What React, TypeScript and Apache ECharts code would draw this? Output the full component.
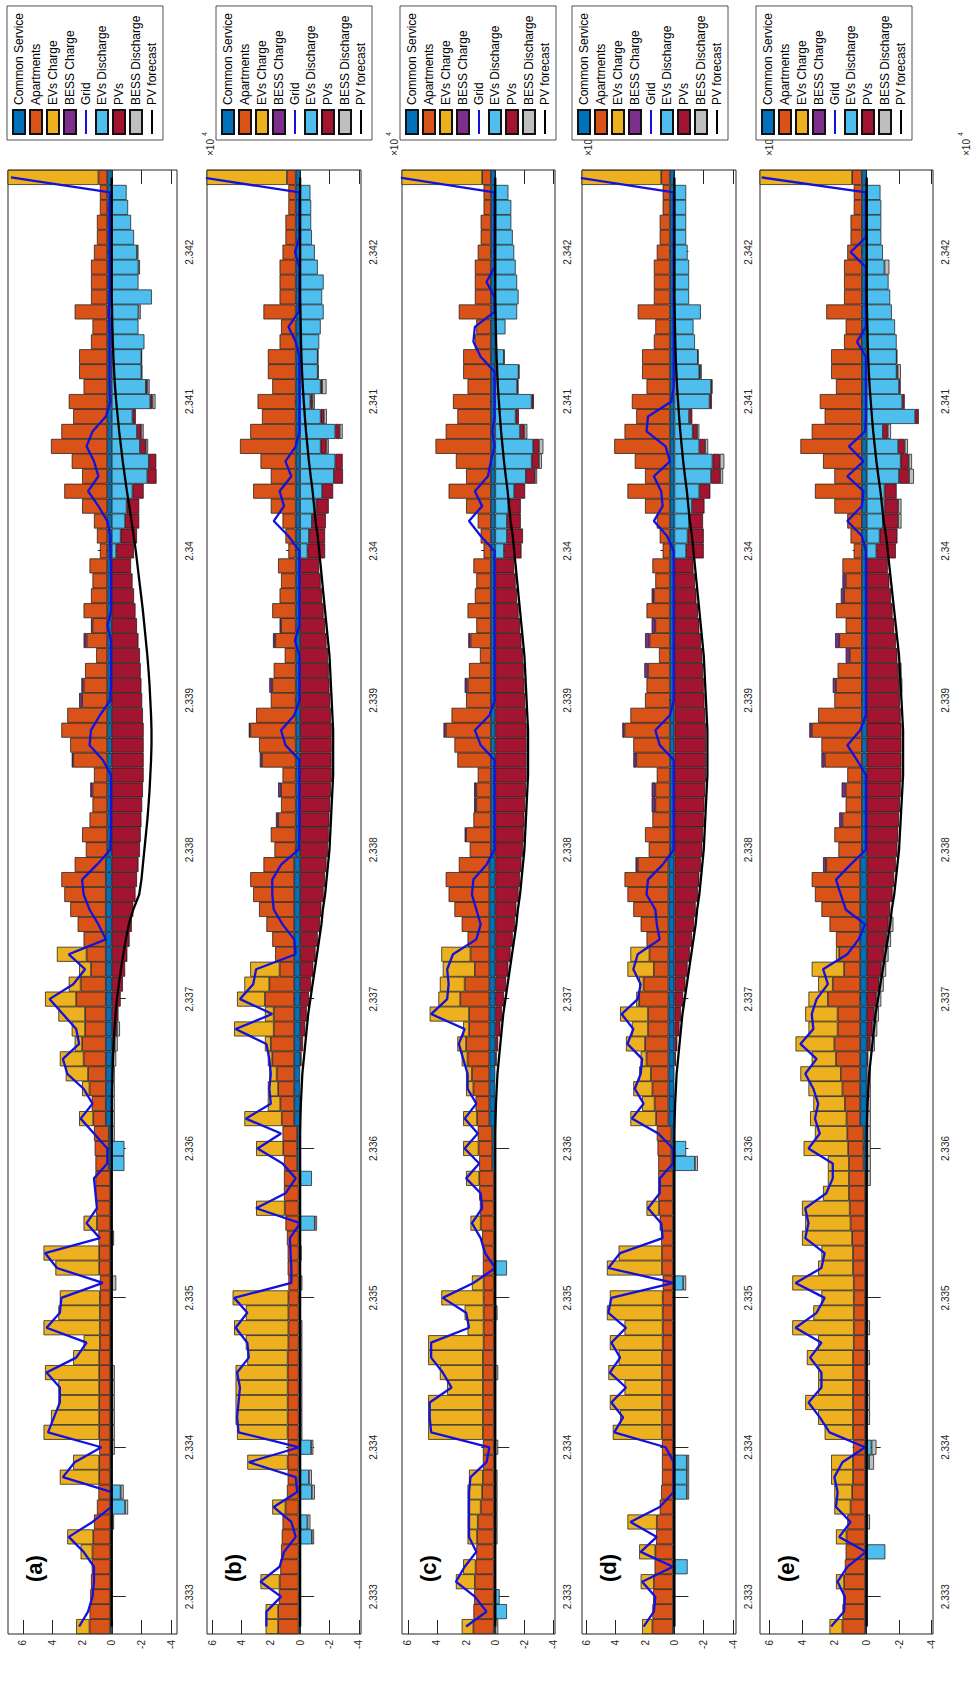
import React, { useEffect, useRef } from "react";
import * as echarts from "echarts";

// ---------------------------------------------------------------------------
// Hourly time stamps (hours, shown on the axis in units of 1e4)
// ---------------------------------------------------------------------------
const FIRST_HOUR = 23328;
const HOUR_COUNT = 98;
const hours: string[] = Array.from({ length: HOUR_COUNT }, (_, i) => String(FIRST_HOUR + i));
const timeTicks = [23330, 23340, 23350, 23360, 23370, 23380, 23390, 23400, 23410, 23420];
const valueTicks = [-4, -2, 0, 2, 4, 6];

// ---------------------------------------------------------------------------
// Profiles shared by every scenario
// ---------------------------------------------------------------------------
const commonService = [
  0.1, 0.1, 0.1, 0.1, 0.1, 0.1, 0.1, 0.1, 0.1, 0.1,
  0.1, 0.1, 0.1, 0.1, 0.1, 0.1, 0.1, 0.1, 0.1, 0.1,
  0.1, 0.1, 0.1, 0.1, 0.1, 0.1, 0.1, 0.1, 0.1, 0.1,
  0.1, 0.2, 0.2, 0.2, 0.4, 0.4, 0.4, 0.4, 0.4, 0.4,
  0.4, 0.4, 0.4, 0.4, 0.4, 0.4, 0.4, 0.4, 0.4, 0.4,
  0.4, 0.4, 0.3, 0.3, 0.3, 0.3, 0.3, 0.3, 0.3, 0.3,
  0.3, 0.3, 0.3, 0.3, 0.3, 0.3, 0.3, 0.3, 0.3, 0.3,
  0.3, 0.3, 0.3, 0.3, 0.3, 0.3, 0.3, 0.3, 0.3, 0.3,
  0.3, 0.3, 0.3, 0.3, 0.3, 0.3, 0.3, 0.3, 0.3, 0.3,
  0.3, 0.3, 0.3, 0.3, 0.3, 0.3, 0.3, 0.3,
];

const apartments = [
  1.4, 1.4, 1.35, 1.3, 1.25, 1.2, 1.15, 1.1, 0.9, 0.8,
  0.75, 0.75, 0.75, 0.75, 0.75, 0.75, 0.75, 0.75, 0.75, 0.7,
  0.7, 0.7, 0.7, 0.7, 0.75, 0.75, 0.8, 0.9, 0.95, 1.0,
  1.0, 0.9, 0.95, 1.0, 0.85, 0.95, 1.1, 1.2, 1.5, 1.6,
  1.4, 1.4, 2.0, 1.7, 1.0, 1.3, 1.5, 1.9, 2.4, 2.8,
  3.0, 2.1, 1.45, 1.7, 1.2, 1.0, 1.0, 0.9, 2.3, 2.5,
  3.1, 2.7, 1.7, 1.6, 1.5, 0.75, 1.4, 1.0, 1.6, 1.1,
  1.0, 1.2, 0.5, 0.7, 0.9, 1.7, 2.9, 1.7, 2.4, 3.8,
  3.1, 2.3, 2.6, 1.6, 1.9, 1.9, 1.1, 1.0, 2.2, 1.1,
  1.1, 1.1, 0.9, 0.7, 0.7, 0.5, 0.5, 0.6,
];

const pvOutput = [
  0, 0, 0, 0, 0, 0, 0, 0, 0, 0,
  0, 0, 0, 0, 0, 0, 0, 0, 0, 0,
  0, 0, 0, 0, 0, 0, 0, 0, 0, 0,
  0, 0, 0, 0, 0, 0, 0, 0, -0.1, -0.2,
  -0.35, -0.45, -0.6, -0.75, -0.9, -1.05, -1.2, -1.35, -1.45, -1.6,
  -1.7, -1.8, -1.9, -1.95, -2.0, -2.05, -2.1, -2.15, -2.15, -2.15,
  -2.15, -2.1, -2.05, -2.0, -1.95, -1.9, -1.8, -1.7, -1.6, -1.5,
  -1.4, -1.3, -1.2, -1.1, -0.95, -0.85, -0.75, -0.62, -0.5, -0.4,
  -0.3, -0.22, -0.15, -0.1, -0.06, -0.03, 0, 0, 0, 0,
  0, 0, 0, 0, 0, 0, 0, 0,
];

const pvForecastA = [
  0, 0, 0, 0, 0, 0, 0, 0, 0, 0,
  0, 0, 0, 0, 0, 0, 0, 0, 0, 0,
  0, 0, 0, 0, 0, 0, 0, 0, 0, 0,
  0, 0, 0, 0, 0, 0, -0.02, -0.05, -0.08, -0.12,
  -0.18, -0.26, -0.35, -0.48, -0.62, -0.78, -0.95, -1.15, -1.45, -1.85,
  -2.0, -2.1, -2.2, -2.3, -2.4, -2.48, -2.55, -2.6, -2.65, -2.68,
  -2.68, -2.65, -2.6, -2.55, -2.48, -2.4, -2.3, -2.2, -2.1, -1.98,
  -1.86, -1.74, -1.62, -1.48, -1.33, -1.18, -1.02, -0.88, -0.74, -0.62,
  -0.5, -0.4, -0.3, -0.22, -0.16, -0.11, -0.07, -0.04, -0.02, 0,
  0, 0, 0, 0, 0, 0, 0, 0,
];

const pvForecast = [
  0, 0, 0, 0, 0, 0, 0, 0, 0, 0,
  0, 0, 0, 0, 0, 0, 0, 0, 0, 0,
  0, 0, 0, 0, 0, 0, 0, 0, 0, 0,
  0, 0, 0, 0, -0.02, -0.05, -0.1, -0.15, -0.25, -0.35,
  -0.45, -0.55, -0.7, -0.85, -1.0, -1.15, -1.3, -1.45, -1.55, -1.7,
  -1.8, -1.9, -2.0, -2.05, -2.1, -2.15, -2.2, -2.25, -2.25, -2.25,
  -2.25, -2.2, -2.15, -2.1, -2.05, -2.0, -1.9, -1.8, -1.7, -1.6,
  -1.5, -1.4, -1.3, -1.2, -1.05, -0.95, -0.85, -0.72, -0.6, -0.5,
  -0.4, -0.32, -0.25, -0.18, -0.13, -0.09, -0.06, -0.04, -0.02, 0,
  0, 0, 0, 0, 0, 0, 0, 0,
];

// ---------------------------------------------------------------------------
// Scenario (a)
// ---------------------------------------------------------------------------
const evChargeA = [
  0.9, 0, 0, 0, 0, 0.8, 1.75, 0, 0, 0,
  2.65, 1.75, 0, 3.75, 3.25, 2.75, 2.75, 3.65, 1.75, 1.1,
  3.8, 2.8, 2.7, 0, 2.95, 3.75, 0, 0.9, 0, 0,
  0, 0, 0, 0, 0.95, 0, 0.5, 1.5, 1.6, 0.5,
  0.9, 1.8, 2.1, 0.8, 0.8, 2.0, 0, 0, 0, 0,
  0, 0, 0, 0, 0, 0, 0, 0, 0, 0,
  0, 0, 0, 0, 0, 0, 0, 0, 0, 0,
  0, 0, 0, 0, 0, 0, 0, 0, 0, 0,
  0, 0, 0, 0, 0, 0, 0, 0, 0, 0,
  0, 0, 0, 0, 0, 0, 0, 6.5,
];
const evDischargeA = [
  0, 0, 0, 0, 0, 0, 0, 0, -0.9, -0.6,
  0, 0, 0, 0, 0, 0, 0, 0, 0, 0,
  0, 0, 0, 0, 0, 0, 0, 0, 0, 0,
  0, -0.85, -0.85, 0, 0, 0, 0, 0, 0, 0,
  0, 0, 0, 0, 0, 0, 0, 0, 0, 0,
  0, 0, 0, 0, 0, 0, 0, 0, 0, 0,
  0, 0, 0, 0, 0, 0, 0, 0, 0, 0,
  0, 0, -0.3, -0.6, -0.9, -1.0, -1.4, -2.4, -2.5, -1.9,
  -1.7, -1.4, -2.6, -2.3, -2.0, -2.0, -2.2, -1.8, -1.8, -2.7,
  -1.8, -1.8, -1.7, -1.5, -1.3, -1.1, -1.0, 0,
];
const gridA = [
  2.2, 1.6, 1.3, 1.2, 1.2, 1.9, 2.9, 1.3, 0.05, 0,
  3.3, 2.5, 0.7, 4.3, 3.9, 3.5, 3.5, 4.4, 2.4, 1.7,
  4.4, 3.5, 3.4, 0.6, 3.7, 4.5, 0.8, 1.7, 1.0, 1.1,
  1.2, 0.3, 0.3, 1.2, 2.1, 1.3, 1.9, 3.0, 3.3, 2.2,
  2.4, 3.3, 4.2, 2.6, 1.8, 2.9, 0.4, 0.9, 1.5, 1.9,
  2.0, 1.0, 0.1, 0.05, 0.05, 0.05, 0.05, 0.05, 0.6, 1.5,
  1.4, 0.8, 0.1, 0.05, 0.05, 0.05, 0.05, 0.3, 0.05, 0.05,
  0.05, 0.05, 0.1, 0.1, 0.3, 0.9, 1.6, 0.9, 1.2, 1.7,
  1.3, 0.4, 0.1, 0.15, 0.15, 0.15, 0.15, 0.15, 0.2, 0.15,
  0.15, 0.15, 0.15, 0.15, 0.15, 0.15, 0.1, 6.8,
];
// [hour index, value]
const bessChargeA: [number, number][] = [[56, 0.15], [58, 0.1], [62, 0.2], [63, 0.15], [66, 0.2], [67, 0.1]];
const bessDischargeA: [number, number][] = [
  [7, -0.15], [8, -0.2], [9, -0.2], [12, -0.2], [13, -0.2], [14, -0.2], [15, -0.2], [16, -0.2], [17, -0.2],
  [23, -0.3], [26, -0.15], [33, -0.2], [34, -0.2], [35, -0.2], [36, -0.2], [37, -0.2], [38, -0.2], [39, -0.2],
  [40, -0.2], [79, -0.15], [80, -0.15], [82, -0.2], [83, -0.15], [88, -0.15], [91, -0.1], [92, -0.1],
];

// ---------------------------------------------------------------------------
// Scenario (b)
// ---------------------------------------------------------------------------
const evChargeB = [
  0.85, 0.85, 0, 1.3, 0, 0, 0, 0, 0.9, 0,
  0, 2.75, 0, 3.45, 3.55, 3.55, 3.55, 3.55, 2.75, 2.9,
  3.7, 2.9, 3.8, 0, 0, 0, 0, 0, 1.95, 0,
  0, 0, 1.85, 0, 2.55, 0.85, 0.7, 0.5, 0.3, 0.4,
  2.7, 0.6, 1.9, 1.7, 2.0, 0, 0, 0, 0, 0,
  0, 0, 0, 0, 0, 0, 0, 0, 0, 0,
  0, 0, 0, 0, 0, 0, 0, 0, 0, 0,
  0, 0, 0, 0, 0, 0, 0, 0, 0, 0,
  0, 0, 0, 0, 0, 0, 0, 0, 0, 0,
  0, 0, 0, 0, 0, 0, 0, 6.3,
];
const evDischargeB = [
  0, 0, 0, 0, 0, 0, -0.8, -0.5, 0, -0.8,
  -0.6, 0, -0.75, 0, 0, 0, 0, 0, 0, 0,
  0, 0, 0, 0, 0, 0, 0, -1.0, 0, 0,
  -0.8, 0, 0, 0, 0, 0, 0, 0, 0, 0,
  0, 0, 0, 0, 0, 0, 0, 0, 0, 0,
  0, 0, 0, 0, 0, 0, 0, 0, 0, 0,
  0, 0, 0, 0, 0, 0, 0, 0, 0, 0,
  0, 0, -0.5, -0.6, -0.8, -1.1, -1.5, -2.3, -2.4, -1.4,
  -2.4, -1.4, -0.7, -1.4, -1.2, -1.2, -1.3, -1.4, -1.6, -1.5,
  -1.6, -1.2, -1.0, -0.8, -0.75, -0.75, -0.7, 0,
];
const gridB = [
  2.3, 2.3, 1.3, 2.7, 1.4, 1.1, 0.3, 0.6, 1.8, 0.2,
  0.3, 3.5, 0.05, 4.2, 4.3, 4.2, 4.1, 4.3, 3.5, 3.6,
  4.4, 3.6, 4.5, 0.6, 0.6, 0.65, 0.7, 0, 3.0, 1.0,
  0.3, 1.2, 2.9, 1.3, 3.7, 2.0, 2.1, 2.0, 2.1, 2.3,
  4.4, 1.9, 4.1, 3.2, 3.0, 0.3, 0.4, 1.2, 1.8, 1.9,
  1.9, 1.3, 0.1, 0.05, 0.05, 0.05, 0.05, 0.05, 0.05, 1.0,
  1.3, 0.4, 0.05, 0.05, 0.05, 0.05, 0.35, 0.05, 0.05, 0.05,
  0.05, 0.05, 0.05, 0.8, 1.8, 1.1, 1.4, 0.6, 1.0, 0.3,
  0.05, 0.05, 0.05, 0.05, 0.05, 0.05, 0.3, 0.8, 0.1, 0.05,
  0.05, 0.05, 0.35, 0.05, 0.05, 0.05, 0.05, 6.7,
];
const bessChargeB: [number, number][] = [[54, 0.15], [56, 0.2], [58, 0.15], [60, 0.1], [63, 0.2], [66, 0.15], [67, 0.1]];
const bessDischargeB: [number, number][] = [
  [6, -0.15], [7, -0.2], [9, -0.2], [10, -0.2], [12, -0.15], [13, -0.15], [14, -0.15], [15, -0.15], [16, -0.15],
  [17, -0.15], [18, -0.15], [19, -0.15], [20, -0.15], [23, -0.15], [25, -0.1], [27, -0.15], [79, -0.15],
  [80, -0.2], [81, -0.2], [82, -0.15], [83, -0.3],
];

// ---------------------------------------------------------------------------
// Scenario (c)
// ---------------------------------------------------------------------------
const evChargeC = [
  0.8, 0, 0, 1.3, 0.85, 0, 0.65, 0.7, 0.9, 1.0,
  0.95, 0, 0, 3.75, 3.75, 3.75, 2.45, 2.95, 3.75, 3.8,
  1.1, 1.3, 2.9, 0.8, 0, 0, 0, 0.7, 0, 0,
  0.9, 0, 1.05, 0, 0.95, 0, 0.5, 0.4, 0.4, 0.6,
  0.4, 2.7, 1.5, 1.7, 2.2, 2.0, 0, 0, 0, 0,
  0, 0, 0, 0, 0, 0, 0, 0, 0, 0,
  0, 0, 0, 0, 0, 0, 0, 0, 0, 0,
  0, 0, 0, 0, 0, 0, 0, 0, 0, 0,
  0, 0, 0, 0, 0, 0, 0, 0, 0, 0,
  0, 0, 0, 0, 0, 0, 0, 6.2,
];
const evDischargeC = [
  0, -0.8, -0.3, 0, 0, 0, 0, 0, 0, 0,
  0, 0, 0, 0, 0, 0, 0, 0, 0, 0,
  0, 0, 0, 0, -0.8, 0, 0, 0, 0, 0,
  0, 0, 0, 0, 0, 0, 0, 0, 0, 0,
  0, 0, 0, 0, 0, 0, 0, 0, 0, 0,
  0, 0, 0, 0, 0, 0, 0, 0, 0, 0,
  0, 0, 0, 0, 0, 0, 0, 0, 0, 0,
  0, 0, -0.6, -0.8, -0.8, -0.9, -1.3, -2.1, -2.5, -2.6,
  -1.7, -1.4, -2.5, -1.5, -1.6, -0.6, 0, -0.7, -1.5, -1.6,
  -1.5, -1.4, -1.3, -1.2, -1.1, -1.1, -0.9, 0,
];
const gridC = [
  2.0, 0.6, 1.4, 2.7, 2.1, 1.3, 1.8, 1.8, 1.8, 1.8,
  1.7, 0.6, 0.4, 4.4, 4.5, 4.5, 3.0, 3.6, 4.4, 4.4,
  1.8, 2.0, 3.6, 1.5, 0, 0.7, 1.0, 1.6, 0.9, 1.0,
  2.0, 1.1, 2.1, 1.2, 2.1, 1.3, 1.9, 1.9, 2.2, 2.5,
  2.1, 4.4, 3.3, 3.2, 3.3, 2.9, 1.3, 1.0, 1.3, 1.6,
  1.5, 0.6, 0.05, 0.05, 0.05, 0.05, 0.05, 0.05, 0.05, 1.0,
  1.4, 0.4, 0.05, 0.05, 0.05, 0.05, 0.05, 0.05, 0.05, 0.05,
  0.05, 0.05, 0.05, 1.0, 1.8, 0.9, 1.4, 0.5, 0.3, 0.05,
  0.2, 0.05, 0.05, 0.05, 0.05, 1.0, 1.5, 1.4, 0.05, 0.05,
  0.6, 0.05, 0.05, 0.05, 0.05, 0.05, 0.05, 6.6,
];
const bessChargeC: [number, number][] = [[53, 0.1], [55, 0.15], [56, 0.15], [60, 0.15], [63, 0.2], [66, 0.15]];
const bessDischargeC: [number, number][] = [
  [0, -0.2], [6, -0.15], [7, -0.15], [8, -0.15], [9, -0.15], [10, -0.15], [12, -0.2], [17, -0.2], [21, -0.15],
  [77, -0.15], [78, -0.2], [79, -0.3], [80, -0.2],
];

// ---------------------------------------------------------------------------
// Scenario (d)
// ---------------------------------------------------------------------------
const evChargeD = [
  0.7, 0, 0, 0.9, 0, 1.1, 0, 2.0, 0, 0,
  0, 0, 0, 3.35, 2.85, 3.55, 2.55, 3.65, 2.95, 3.6,
  2.6, 3.8, 3.6, 0, 3.75, 2.95, 0, 0, 0.85, 0,
  0, 0, 0, 0, 1.75, 0.85, 1.3, 0.8, 0.4, 1.3,
  1.1, 1.9, 0.2, 0.3, 1.8, 1.3, 0, 0, 0, 0,
  0, 0, 0, 0, 0, 0, 0, 0, 0, 0,
  0, 0, 0, 0, 0, 0, 0, 0, 0, 0,
  0, 0, 0, 0, 0, 0, 0, 0, 0, 0,
  0, 0, 0, 0, 0, 0, 0, 0, 0, 0,
  0, 0, 0, 0, 0, 0, 0, 6.4,
];
const evDischargeD = [
  0, 0, 0, 0, -0.9, 0, 0, 0, 0, -0.85,
  -0.85, -0.85, 0, 0, 0, 0, 0, 0, 0, 0,
  0, 0, 0, -0.6, 0, 0, 0, 0, 0, 0,
  0, -1.4, -0.8, 0, 0, 0, 0, 0, 0, 0,
  0, 0, 0, 0, 0, 0, 0, 0, 0, 0,
  0, 0, 0, 0, 0, 0, 0, 0, 0, 0,
  0, 0, 0, 0, 0, 0, 0, 0, 0, 0,
  0, 0, -0.8, -0.9, -1.0, -1.2, -1.7, -2.5, -2.6, -1.7,
  -1.25, -1.0, -2.4, -2.5, -1.7, -1.6, -1.4, -1.3, -1.8, -1.0,
  -1.0, -1.0, -0.9, -0.8, -0.8, -0.8, -0.8, 0,
];
const gridD = [
  2.1, 1.4, 1.3, 2.2, 0.1, 2.3, 1.2, 3.0, 1.0, 0.05,
  0.05, 0.05, 0.6, 4.1, 3.5, 4.3, 3.3, 4.4, 3.7, 4.3,
  3.3, 4.5, 4.3, 0.05, 4.5, 3.7, 0.8, 0.9, 1.8, 1.0,
  1.0, 0.1, 0.1, 1.1, 2.9, 2.1, 2.7, 2.3, 2.2, 3.2,
  2.8, 3.6, 2.5, 2.3, 2.8, 2.5, 1.0, 1.2, 1.3, 1.9,
  1.8, 0.8, 0.05, 0.05, 0.05, 0.05, 0.05, 0.05, 0.05, 1.0,
  1.3, 0.3, 0.05, 0.05, 0.05, 0.05, 0.05, 0.05, 0.05, 0.05,
  0.05, 0.05, 0.05, 0.5, 1.4, 0.8, 0.9, 1.4, 0.3, 0.6,
  1.9, 1.8, 0.2, 0.05, 0.05, 0.05, 0.05, 0.05, 0.05, 0.05,
  0.05, 0.05, 0.05, 0.05, 0.05, 0.05, 0.05, 6.6,
];
const bessChargeD: [number, number][] = [
  [51, 0.15], [55, 0.25], [56, 0.25], [58, 0.2], [60, 0.15], [64, 0.25], [66, 0.3], [67, 0.25], [69, 0.15],
];
const bessDischargeD: [number, number][] = [
  [9, -0.15], [10, -0.15], [11, -0.15], [23, -0.2], [31, -0.2], [77, -0.2], [78, -0.3], [79, -0.2], [80, -0.15],
  [84, -0.1],
];

// ---------------------------------------------------------------------------
// Scenario (e)
// ---------------------------------------------------------------------------
const evChargeE = [
  0.8, 0, 0, 0.5, 0, 0, 0.65, 0, 1.0, 1.1,
  1.35, 1.35, 0, 1.75, 2.15, 2.95, 2.15, 2.15, 2.85, 2.2,
  3.8, 2.5, 2.0, 3.8, 2.15, 1.95, 3.1, 2.8, 2.95, 1.6,
  1.3, 1.3, 2.75, 2.0, 2.25, 1.95, 2.1, 2.5, 1.5, 2.4,
  1.8, 2.0, 1.2, 0.9, 2.0, 0.2, 0, 0, 0, 0,
  0, 0, 0, 0, 0, 0, 0, 0, 0, 0,
  0, 0, 0, 0, 0, 0, 0, 0, 0, 0,
  0, 0, 0, 0, 0, 0, 0, 0, 0, 0,
  0, 0, 0, 0, 0, 0, 0, 0, 0, 0,
  0, 0, 0, 0, 0, 0, 0, 6.2,
];
const evDischargeE = [
  0, 0, 0, 0, 0, -1.15, 0, 0, 0, 0,
  0, -0.15, -0.3, 0, 0, 0, 0, 0, 0, 0,
  0, 0, 0, 0, 0, 0, 0, 0, 0, 0,
  0, 0, 0, 0, 0, 0, 0, 0, 0, 0,
  0, 0, 0, 0, 0, 0, 0, 0, 0, 0,
  0, 0, 0, 0, 0, 0, 0, 0, 0, 0,
  0, 0, 0, 0, 0, 0, 0, 0, 0, 0,
  0, 0, -0.6, -0.8, -1.0, -1.1, -1.1, -2.0, -2.1, -1.95,
  -1.0, -3.0, -2.2, -2.0, -1.85, -1.85, -1.85, -1.75, -1.55, -1.45,
  -1.35, -1.1, -1.0, -0.9, -0.9, -0.9, -0.85, 0,
];
const gridE = [
  2.2, 1.4, 1.35, 1.8, 1.2, 0.05, 1.7, 1.0, 1.9, 1.8,
  2.0, 1.5, 0.1, 2.3, 2.9, 3.6, 2.8, 2.8, 3.5, 2.8,
  4.4, 3.1, 2.6, 4.4, 2.8, 2.6, 3.8, 3.6, 3.8, 2.5,
  2.1, 2.1, 3.6, 2.9, 3.2, 3.0, 3.3, 3.8, 3.1, 4.1,
  3.3, 3.4, 3.1, 2.4, 2.7, 1.2, 0.5, 0.1, 1.3, 1.6,
  1.9, 1.0, 0.05, 0.05, 0.05, 0.05, 0.05, 0.05, 0.6, 1.2,
  0.4, 0.05, 0.05, 0.05, 0.05, 0.05, 0.05, 0.05, 0.05, 0.05,
  0.05, 0.05, 0.05, 0.3, 1.2, 0.3, 0.2, 1.2, 0.2, 1.1,
  0.1, 0.05, 0.05, 0.05, 0.05, 0.05, 0.6, 0.05, 0.05, 0.05,
  0.05, 0.05, 1.0, 0.05, 0.05, 0.05, 0.05, 6.5,
];
const bessChargeE: [number, number][] = [
  [51, 0.2], [54, 0.2], [56, 0.25], [58, 0.2], [60, 0.15], [63, 0.2], [65, 0.25], [66, 0.25], [69, 0.2], [70, 0.2],
];
const bessDischargeE: [number, number][] = [
  [7, -0.2], [11, -0.3], [12, -0.3], [14, -0.2], [15, -0.2], [16, -0.2], [18, -0.2], [20, -0.2],
  [30, -0.25], [31, -0.25], [32, -0.25], [33, -0.25], [34, -0.25], [35, -0.25], [36, -0.25], [37, -0.25],
  [39, -0.3], [40, -0.3], [41, -0.3], [42, -0.3], [43, -0.3], [44, -0.3], [45, -0.3], [46, -0.3], [47, -0.3],
  [63, -0.2], [64, -0.2], [74, -0.2], [75, -0.2], [77, -0.3], [78, -0.2], [79, -0.2], [80, -0.2], [84, -0.2],
  [91, -0.3],
];

// ---------------------------------------------------------------------------
// Styling
// ---------------------------------------------------------------------------
const NAMES = {
  cs: "Common Service",
  apt: "Apartments",
  evc: "EVs Charge",
  bessc: "BESS Charge",
  grid: "Grid",
  evd: "EVs Discharge",
  pv: "PVs",
  bessd: "BESS Discharge",
  fc: "PV forecast",
};
const COLORS = {
  cs: "#0072BD",
  apt: "#D95319",
  evc: "#EDB120",
  bessc: "#7E2F8E",
  grid: "#1212DC",
  evd: "#4DBEEE",
  pv: "#A2142F",
  bessd: "#BEBEBE",
  fc: "#000000",
};
const AXIS_COLOR = "#262626";
const FONT = "'Liberation Sans', Arial, Helvetica, sans-serif";
const LINE_ICON = "path://M0,0H24V2H0Z";

// The figure is laid out landscape and turned a quarter turn counter-clockwise.
const FRAME_W = 1702;
const FRAME_H = 975;
const PLOT_LEFT = 68;
const PLOT_RIGHT = 170;
const LEGEND_LEFT = 1562;
const PANEL_LABEL_LEFT = 120;

type Panel = {
  label: string;
  top: number;
  height: number;
  yMin: number;
  yMax: number;
  legendTop: number;
  evCharge: number[];
  evDischarge: number[];
  bessCharge: [number, number][];
  bessDischarge: [number, number][];
  grid: number[];
  forecast: number[];
};

const panels: Panel[] = [
  { label: "(a)", top: 8, height: 169, yMin: -4.4, yMax: 7.0, legendTop: 7,
    evCharge: evChargeA, evDischarge: evDischargeA, bessCharge: bessChargeA, bessDischarge: bessDischargeA,
    grid: gridA, forecast: pvForecastA },
  { label: "(b)", top: 207, height: 154, yMin: -4.15, yMax: 6.35, legendTop: 216,
    evCharge: evChargeB, evDischarge: evDischargeB, bessCharge: bessChargeB, bessDischarge: bessDischargeB,
    grid: gridB, forecast: pvForecast },
  { label: "(c)", top: 402, height: 153, yMin: -4.1, yMax: 6.4, legendTop: 400,
    evCharge: evChargeC, evDischarge: evDischargeC, bessCharge: bessChargeC, bessDischarge: bessDischargeC,
    grid: gridC, forecast: pvForecast },
  { label: "(d)", top: 582, height: 154, yMin: -4.2, yMax: 6.3, legendTop: 572,
    evCharge: evChargeD, evDischarge: evDischargeD, bessCharge: bessChargeD, bessDischarge: bessDischargeD,
    grid: gridD, forecast: pvForecast },
  { label: "(e)", top: 760, height: 173, yMin: -4.1, yMax: 6.6, legendTop: 756,
    evCharge: evChargeE, evDischarge: evDischargeE, bessCharge: bessChargeE, bessDischarge: bessDischargeE,
    grid: gridE, forecast: pvForecast },
];

const expand = (pairs: [number, number][]) => {
  const out = new Array(HOUR_COUNT).fill(0);
  pairs.forEach(([h, v]) => {
    out[h] = v;
  });
  return out;
};
const bars = (values: number[]) => values.map((v) => (v === 0 ? null : v));

const tickSet = new Set(timeTicks.map(String));
const isTimeTick = (_: number, value: string) => tickSet.has(String(value));
const formatTime = (value: string) => String(parseFloat((Number(value) / 1e4).toFixed(3)));

function buildOption() {
  const grids: any[] = [];
  const xAxes: any[] = [];
  const yAxes: any[] = [];
  const series: any[] = [];
  const legends: any[] = [];
  const graphics: any[] = [];

  panels.forEach((p, i) => {
    grids.push({
      left: PLOT_LEFT,
      right: PLOT_RIGHT,
      top: p.top,
      height: p.height,
      show: true,
      borderColor: AXIS_COLOR,
      borderWidth: 1,
      backgroundColor: "#ffffff",
    });

    const xBase = {
      type: "category",
      gridIndex: i,
      data: hours,
      boundaryGap: true,
      axisLine: { show: false },
      splitLine: { show: false },
      axisTick: {
        show: true,
        inside: true,
        length: 14,
        alignWithLabel: true,
        interval: isTimeTick,
        lineStyle: { color: AXIS_COLOR, width: 1 },
      },
    };
    xAxes.push({
      ...xBase,
      position: "bottom",
      axisLabel: {
        show: true,
        interval: isTimeTick,
        formatter: formatTime,
        color: AXIS_COLOR,
        fontSize: 10,
        fontFamily: FONT,
        margin: 7,
      },
    });
    xAxes.push({ ...xBase, position: "top", axisLabel: { show: false } });

    const yBase = {
      type: "value",
      gridIndex: i,
      min: p.yMin,
      max: p.yMax,
      axisLine: { show: false },
      splitLine: { show: false },
      axisTick: {
        show: true,
        inside: true,
        length: 14,
        customValues: valueTicks,
        lineStyle: { color: AXIS_COLOR, width: 1 },
      },
    };
    yAxes.push({
      ...yBase,
      position: "left",
      axisLabel: {
        show: true,
        customValues: valueTicks,
        color: AXIS_COLOR,
        fontSize: 10,
        fontFamily: FONT,
        margin: 6,
      },
    });
    yAxes.push({ ...yBase, position: "right", axisLabel: { show: false } });

    const barSeries = (key: keyof typeof COLORS, values: number[]) => ({
      name: NAMES[key],
      type: "bar",
      xAxisIndex: 2 * i,
      yAxisIndex: 2 * i,
      stack: "mix" + i,
      barCategoryGap: "0%",
      data: bars(values),
      itemStyle: { color: COLORS[key], borderColor: "#111111", borderWidth: 0.7 },
      emphasis: { disabled: true },
      z: 2,
    });

    series.push(barSeries("cs", commonService));
    series.push(barSeries("apt", apartments));
    series.push(barSeries("evc", p.evCharge));
    series.push(barSeries("bessc", expand(p.bessCharge)));
    series.push(barSeries("evd", p.evDischarge));
    series.push(barSeries("pv", pvOutput));
    series.push(barSeries("bessd", expand(p.bessDischarge)));

    series.push({
      name: NAMES.grid,
      type: "line",
      xAxisIndex: 2 * i,
      yAxisIndex: 2 * i,
      data: p.grid,
      symbol: "none",
      lineStyle: { color: COLORS.grid, width: 2.3 },
      itemStyle: { color: COLORS.grid },
      emphasis: { disabled: true },
      z: 4,
    });
    series.push({
      name: NAMES.fc,
      type: "line",
      xAxisIndex: 2 * i,
      yAxisIndex: 2 * i,
      data: p.forecast,
      symbol: "none",
      lineStyle: { color: COLORS.fc, width: 2.3 },
      itemStyle: { color: COLORS.fc },
      emphasis: { disabled: true },
      z: 5,
    });

    legends.push({
      orient: "vertical",
      left: LEGEND_LEFT,
      top: p.legendTop,
      itemWidth: 24,
      itemHeight: 12,
      itemGap: 3,
      padding: [5, 7, 5, 5],
      borderColor: AXIS_COLOR,
      borderWidth: 0.8,
      backgroundColor: "#ffffff",
      selectedMode: false,
      textStyle: { fontSize: 12, fontFamily: FONT, color: "#000000" },
      data: [
        { name: NAMES.cs, icon: "rect" },
        { name: NAMES.apt, icon: "rect" },
        { name: NAMES.evc, icon: "rect" },
        { name: NAMES.bessc, icon: "rect" },
        { name: NAMES.grid, icon: LINE_ICON, itemStyle: { color: COLORS.grid, borderWidth: 0 } },
        { name: NAMES.evd, icon: "rect" },
        { name: NAMES.pv, icon: "rect" },
        { name: NAMES.bessd, icon: "rect" },
        { name: NAMES.fc, icon: LINE_ICON, itemStyle: { color: COLORS.fc, borderWidth: 0 } },
      ],
    });

    graphics.push({
      type: "text",
      left: PANEL_LABEL_LEFT,
      top: p.top + 15,
      style: { text: p.label, font: `bold 22px ${FONT}`, fill: "#000000" },
    });
    graphics.push({
      type: "text",
      left: 1546,
      top: p.top + p.height + 28,
      style: { text: "×10", font: `10px ${FONT}`, fill: AXIS_COLOR },
    });
    graphics.push({
      type: "text",
      left: 1566,
      top: p.top + p.height + 24,
      style: { text: "4", font: `7px ${FONT}`, fill: AXIS_COLOR },
    });
  });

  return {
    animation: false,
    backgroundColor: "#ffffff",
    grid: grids,
    xAxis: xAxes,
    yAxis: yAxes,
    legend: legends,
    series,
    graphic: graphics,
  };
}

export default function App() {
  const ref = useRef<HTMLDivElement>(null);

  useEffect(() => {
    if (!ref.current) return;
    const chart = echarts.init(ref.current, null, {
      renderer: "svg",
      width: FRAME_W,
      height: FRAME_H,
    });
    chart.setOption(buildOption() as any);
    return () => chart.dispose();
  }, []);

  return (
    <div
      style={{
        position: "absolute",
        left: 0,
        top: 0,
        width: FRAME_H,
        height: FRAME_W,
        overflow: "hidden",
        background: "#ffffff",
      }}
    >
      <div
        ref={ref}
        style={{
          position: "absolute",
          left: 0,
          top: 0,
          width: FRAME_W,
          height: FRAME_H,
          transformOrigin: "0 0",
          transform: `translate(0px, ${FRAME_W}px) rotate(-90deg)`,
        }}
      />
    </div>
  );
}
